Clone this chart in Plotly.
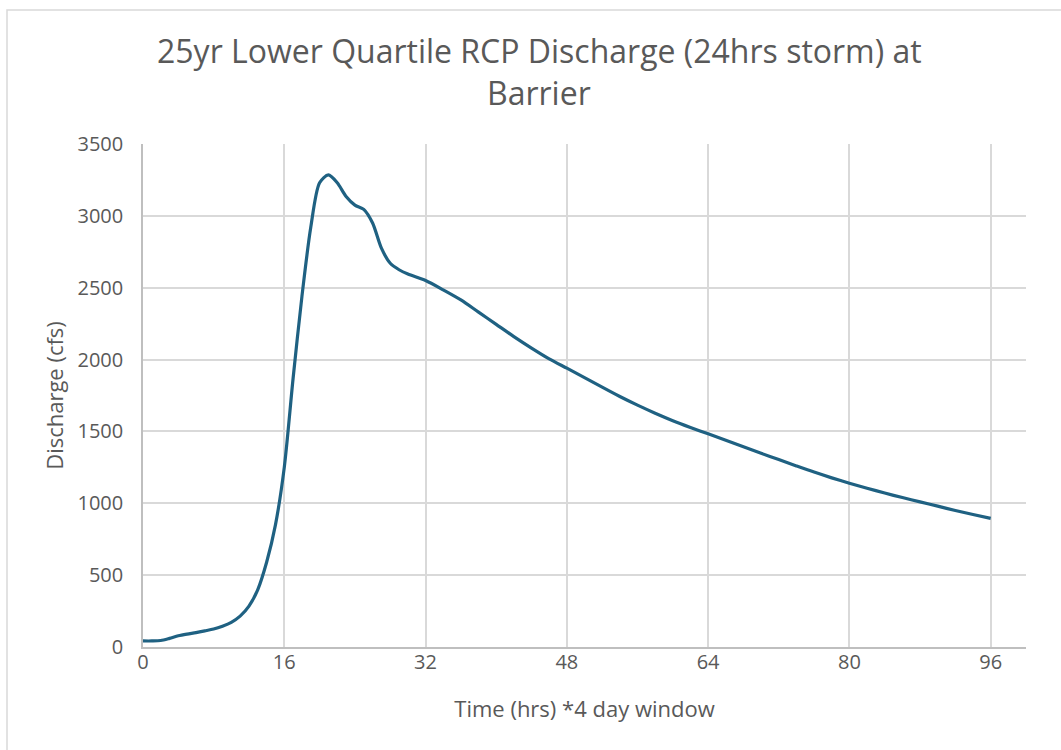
import plotly.graph_objects as go

time_hrs = [0, 1, 2, 3, 4, 5, 6, 7, 8, 9, 10, 11, 12, 13, 14, 15, 16, 17, 18, 19,
            20, 21, 22, 23, 24, 25, 26, 27, 28, 29, 30, 32, 34, 36, 38, 40, 42, 44,
            46, 48, 50, 52, 54, 56, 58, 60, 62, 64, 66, 68, 70, 72, 74, 76, 78, 80,
            82, 84, 86, 88, 90, 92, 94, 96]
discharge_cfs = [42, 42, 45, 60, 78, 90, 100, 112, 125, 145, 172, 215, 285, 400, 590,
                 850, 1250, 1870, 2440, 2920, 3230, 3285, 3230, 3135, 3075, 3045, 2950,
                 2775, 2670, 2625, 2595, 2550, 2485, 2415, 2330, 2245, 2160, 2080,
                 2005, 1940, 1875, 1808, 1743, 1683, 1627, 1575, 1528, 1483, 1438,
                 1393, 1348, 1304, 1260, 1217, 1177, 1140, 1105, 1071, 1040, 1010,
                 980, 950, 922, 895]

x_ticks = [0, 16, 32, 48, 64, 80, 96]
y_ticks = [0, 500, 1000, 1500, 2000, 2500, 3000, 3500]

title_lines = ["25yr Lower Quartile RCP Discharge (24hrs storm) at", "Barrier"]
x_title = "Time (hrs) *4 day window"
y_title = "Discharge (cfs)"

FONT = "'Open Sans', 'Noto Sans', sans-serif"
TXT = "#595959"

fig = go.Figure()
fig.add_trace(go.Scatter(
    x=time_hrs, y=discharge_cfs, mode="lines",
    line=dict(color="#1F6182", width=3.2, shape="spline", smoothing=0.8),
    hoverinfo="x+y", showlegend=False,
))

L, R, T, B = 143, 35, 144, 103
W, H = 1061, 750
pw, ph = W - L - R, H - T - B

def px_to_paper_x(px):
    return (px - L) / pw

def px_to_paper_y(py):
    return (H - B - py) / ph

annotations = []
for line_text, cy in zip(title_lines, [50, 93]):
    annotations.append(dict(
        text=line_text, xref="paper", yref="paper",
        x=px_to_paper_x(539), y=px_to_paper_y(cy),
        xanchor="center", yanchor="middle", showarrow=False,
        font=dict(size=32, color=TXT, family=FONT),
    ))

fig.update_layout(
    width=W, height=H,
    margin=dict(l=L, r=R, t=T, b=B),
    paper_bgcolor="white", plot_bgcolor="white",
    font=dict(family=FONT, color=TXT),
    annotations=annotations,
    xaxis=dict(range=[0, 100], tickvals=x_ticks, ticktext=[str(v) for v in x_ticks],
               showgrid=True, gridcolor="#D9D9D9", gridwidth=1.5,
               showline=True, linecolor="#BFBFBF", linewidth=1.5,
               zeroline=False, ticks="", tickfont=dict(size=20, color=TXT),
               ticklabelstandoff=-4,
               title=dict(text=x_title, font=dict(size=22, color=TXT), standoff=28)),
    yaxis=dict(range=[0, 3500], tickvals=y_ticks, ticktext=[str(v) for v in y_ticks],
               showgrid=True, gridcolor="#D9D9D9", gridwidth=1.5,
               showline=True, linecolor="#BFBFBF", linewidth=1.5,
               zeroline=False, ticks="", tickfont=dict(size=20, color=TXT),
               ticklabelstandoff=14,
               title=dict(text=y_title, font=dict(size=22, color=TXT), standoff=8)),
    shapes=[dict(type="rect", xref="paper", yref="paper",
                 x0=px_to_paper_x(7), x1=px_to_paper_x(1080),
                 y0=px_to_paper_y(770), y1=px_to_paper_y(10),
                 line=dict(color="#D9D9D9", width=1.5), fillcolor="rgba(0,0,0,0)",
                 layer="below")],
)

fig.write_html("out.html")
